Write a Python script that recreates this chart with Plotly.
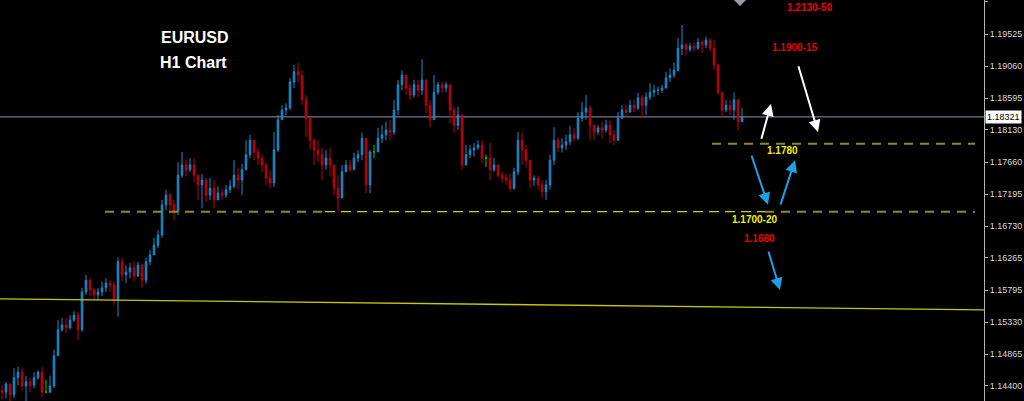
import plotly.graph_objects as go

# ---------------- data (EURUSD H1) ----------------
OPEN0 = 1.1433
CLOSE = [
1.1431,1.1443,1.1427,1.1452,1.1460,1.1440,1.1446,1.1441,1.1452,1.1460,
1.1431,1.1431,1.1440,1.1484,1.1522,1.1529,1.1525,1.1536,1.1543,1.1522,
1.1577,1.1594,1.1580,1.1573,1.1577,1.1583,1.1590,1.1587,1.1565,1.1621,
1.1602,1.1606,1.1612,1.1600,1.1616,1.1594,1.1621,1.1631,1.1645,1.1660,
1.1704,1.1718,1.1704,1.1694,1.1747,1.1762,1.1755,1.1762,1.1747,1.1733,
1.1740,1.1718,1.1728,1.1711,1.1721,1.1718,1.1726,1.1731,1.1747,1.1740,
1.1755,1.1777,1.1798,1.1781,1.1772,1.1762,1.1743,1.1736,1.1784,1.1828,
1.1842,1.1845,1.1883,1.1898,1.1893,1.1857,1.1830,1.1798,1.1784,1.1777,
1.1762,1.1772,1.1762,1.1728,1.1714,1.1752,1.1762,1.1755,1.1772,1.1777,
1.1801,1.1733,1.1781,1.1781,1.1801,1.1806,1.1813,1.1810,1.1842,1.1879,
1.1893,1.1874,1.1864,1.1879,1.1871,1.1886,1.1849,1.1828,1.1868,1.1879,
1.1874,1.1879,1.1842,1.1820,1.1835,1.1762,1.1777,1.1784,1.1787,1.1791,
1.1772,1.1772,1.1755,1.1762,1.1747,1.1743,1.1740,1.1728,1.1752,1.1798,
1.1784,1.1769,1.1740,1.1743,1.1733,1.1723,1.1733,1.1769,1.1798,1.1787,
1.1791,1.1796,1.1806,1.1801,1.1830,1.1839,1.1845,1.1820,1.1810,1.1816,
1.1813,1.1820,1.1806,1.1798,1.1830,1.1842,1.1839,1.1849,1.1845,1.1860,
1.1849,1.1861,1.1868,1.1871,1.1871,1.1874,1.1889,1.1893,1.1900,1.1932,
1.1937,1.1930,1.1935,1.1932,1.1941,1.1937,1.1944,1.1932,1.1908,1.1868,
1.1842,1.1849,1.1842,1.1857,1.1825,1.1832]

HIGH = [
1.1441,1.1446,1.1440,1.1466,1.1468,1.1466,1.1455,1.1452,1.1460,1.1463,
1.1468,1.1449,1.1455,1.1493,1.1536,1.1539,1.1539,1.1543,1.1549,1.1548,
1.1583,1.1602,1.1597,1.1583,1.1583,1.1592,1.1597,1.1594,1.1592,1.1627,
1.1627,1.1616,1.1619,1.1621,1.1621,1.1618,1.1627,1.1638,1.1656,1.1667,
1.1711,1.1726,1.1721,1.1711,1.1766,1.1781,1.1769,1.1772,1.1772,1.1747,
1.1749,1.1743,1.1743,1.1740,1.1731,1.1728,1.1733,1.1740,1.1769,1.1758,
1.1764,1.1798,1.1806,1.1791,1.1787,1.1777,1.1766,1.1755,1.1810,1.1835,
1.1849,1.1852,1.1889,1.1908,1.1911,1.1900,1.1864,1.1828,1.1801,1.1798,
1.1787,1.1784,1.1787,1.1762,1.1747,1.1762,1.1769,1.1769,1.1780,1.1784,
1.1809,1.1798,1.1784,1.1791,1.1816,1.1820,1.1825,1.1828,1.1857,1.1886,
1.1900,1.1886,1.1879,1.1886,1.1886,1.1916,1.1879,1.1857,1.1893,1.1883,
1.1883,1.1883,1.1871,1.1847,1.1847,1.1820,1.1791,1.1791,1.1794,1.1798,
1.1798,1.1777,1.1794,1.1772,1.1762,1.1752,1.1749,1.1750,1.1758,1.1810,
1.1809,1.1791,1.1769,1.1747,1.1747,1.1740,1.1740,1.1777,1.1817,1.1803,
1.1801,1.1806,1.1819,1.1816,1.1839,1.1854,1.1864,1.1849,1.1820,1.1820,
1.1825,1.1828,1.1828,1.1813,1.1839,1.1849,1.1849,1.1857,1.1857,1.1867,
1.1864,1.1868,1.1881,1.1879,1.1876,1.1879,1.1898,1.1903,1.1911,1.1947,
1.1966,1.1940,1.1940,1.1941,1.1947,1.1944,1.1949,1.1947,1.1944,1.1908,
1.1868,1.1857,1.1857,1.1868,1.1849,1.1845]

LOW = [
1.1420,1.1422,1.1418,1.1422,1.1441,1.1434,1.1418,1.1431,1.1437,1.1449,
1.1424,1.1430,1.1430,1.1437,1.1484,1.1519,1.1517,1.1522,1.1533,1.1507,
1.1519,1.1573,1.1571,1.1565,1.1565,1.1571,1.1577,1.1577,1.1558,1.1541,
1.1592,1.1590,1.1597,1.1592,1.1602,1.1583,1.1589,1.1616,1.1631,1.1641,
1.1656,1.1696,1.1694,1.1682,1.1689,1.1743,1.1745,1.1752,1.1737,1.1711,
1.1699,1.1708,1.1711,1.1699,1.1711,1.1711,1.1714,1.1721,1.1728,1.1726,
1.1718,1.1758,1.1772,1.1769,1.1762,1.1752,1.1733,1.1728,1.1730,1.1781,
1.1830,1.1835,1.1842,1.1874,1.1883,1.1849,1.1803,1.1784,1.1762,1.1766,
1.1740,1.1755,1.1745,1.1718,1.1695,1.1721,1.1752,1.1752,1.1762,1.1766,
1.1769,1.1721,1.1721,1.1772,1.1784,1.1794,1.1798,1.1798,1.1806,1.1835,
1.1871,1.1864,1.1857,1.1860,1.1861,1.1864,1.1838,1.1817,1.1838,1.1864,
1.1867,1.1868,1.1823,1.1809,1.1813,1.1755,1.1769,1.1772,1.1774,1.1784,
1.1765,1.1759,1.1740,1.1752,1.1743,1.1736,1.1733,1.1723,1.1726,1.1747,
1.1762,1.1758,1.1728,1.1731,1.1726,1.1714,1.1711,1.1726,1.1762,1.1781,
1.1780,1.1784,1.1791,1.1796,1.1798,1.1825,1.1828,1.1798,1.1798,1.1806,
1.1801,1.1809,1.1794,1.1791,1.1806,1.1830,1.1833,1.1839,1.1839,1.1842,
1.1830,1.1835,1.1857,1.1861,1.1864,1.1867,1.1874,1.1883,1.1889,1.1898,
1.1922,1.1922,1.1927,1.1927,1.1930,1.1925,1.1932,1.1927,1.1900,1.1864,
1.1832,1.1839,1.1835,1.1828,1.1813,1.1825]

DOJI_IDX = [11, 93, 121]

TICK_VALUES = [1.19995, 1.19525, 1.19060, 1.18595, 1.18130, 1.17660, 1.17195,
               1.16730, 1.16265, 1.15795, 1.15330, 1.14865, 1.14400]
TICK_LABELS = ["%.5f" % v for v in TICK_VALUES]

CURRENT_PRICE = 1.18321
LEVEL_1780 = 1.1793
LEVEL_1700 = 1.1694
TREND_START = 1.1567
TREND_END = 1.1551

# arrows: (tail_bar, tail_price, head_bar, head_price)
WHITE_ARROWS = [(189.75, 1.1798, 192.25, 1.1851), (199.0, 1.1908, 204.0, 1.1810)]
BLUE_ARROWS = [(187.25, 1.1778, 191.5, 1.1704), (194.5, 1.1702, 198.25, 1.1769),
               (191.5, 1.1638, 194.5, 1.1580)]

# ---------------- build ----------------
n = len(CLOSE)
OPEN = [OPEN0] + CLOSE[:-1]
HI = [max(h, o, c) for h, o, c in zip(HIGH, OPEN, CLOSE)]
LO = [min(l, o, c) for l, o, c in zip(LOW, OPEN, CLOSE)]

BLUE = "#1a8bcc"
RED = "#c00010"
GREEN = "#10c010"
normal = [i for i in range(n) if i not in DOJI_IDX]

fig = go.Figure()
fig.add_trace(go.Candlestick(
    x=normal,
    open=[OPEN[i] for i in normal], high=[HI[i] for i in normal],
    low=[LO[i] for i in normal], close=[CLOSE[i] for i in normal],
    increasing=dict(line=dict(color=BLUE, width=1), fillcolor=BLUE),
    decreasing=dict(line=dict(color=RED, width=1), fillcolor=RED),
    whiskerwidth=0, showlegend=False, hoverinfo="skip"))
fig.add_trace(go.Candlestick(
    x=DOJI_IDX,
    open=[OPEN[i] for i in DOJI_IDX], high=[HI[i] for i in DOJI_IDX],
    low=[LO[i] for i in DOJI_IDX], close=[CLOSE[i] for i in DOJI_IDX],
    increasing=dict(line=dict(color=GREEN, width=1), fillcolor=GREEN),
    decreasing=dict(line=dict(color=GREEN, width=1), fillcolor=GREEN),
    whiskerwidth=0, showlegend=False, hoverinfo="skip"))

# small gray marker at top
fig.add_trace(go.Scatter(x=[184.5], y=[1.2004], mode="markers",
                         marker=dict(symbol="diamond", size=11, color="#9a9aa4"),
                         showlegend=False, hoverinfo="skip"))

XMIN, XMAX = -0.5, 245.5
YMIN, YMAX = 1.14181, 1.20024

shapes = [
    dict(type="line", xref="x", yref="y", x0=XMIN, x1=XMAX, y0=CURRENT_PRICE, y1=CURRENT_PRICE,
         line=dict(color="#8c96aa", width=1), layer="below"),
    dict(type="line", xref="x", yref="y", x0=XMIN, x1=XMAX, y0=TREND_START, y1=TREND_END,
         line=dict(color="#c8c800", width=1.3)),
    dict(type="line", xref="x", yref="y", x0=177.5, x1=243.25, y0=LEVEL_1780, y1=LEVEL_1780,
         line=dict(color="#8e8e12", width=2, dash="9px,7px")),
    dict(type="line", xref="x", yref="y", x0=25.75, x1=80.75, y0=LEVEL_1700, y1=LEVEL_1700,
         line=dict(color="#8e8e12", width=2, dash="9px,7px")),
    dict(type="line", xref="x", yref="y", x0=80.75, x1=190.75, y0=LEVEL_1700, y1=LEVEL_1700,
         line=dict(color="#d4d400", width=1.3, dash="10px,6px")),
    dict(type="line", xref="x", yref="y", x0=190.75, x1=243.25, y0=LEVEL_1700, y1=LEVEL_1700,
         line=dict(color="#8e8e12", width=2, dash="9px,7px")),
]

annotations = []
def txt(text, x, y, color, size, bold=True):
    annotations.append(dict(text="<b>%s</b>" % text if bold else text, x=x, y=y,
                            xref="paper", yref="paper", showarrow=False,
                            xanchor="center", yanchor="middle",
                            font=dict(family="Arial, Liberation Sans", size=size, color=color)))

txt("EURUSD", 195 / 984, 1 - 38 / 401, "#ffffff", 16)
txt("H1 Chart", 193.5 / 984, 1 - 62.5 / 401, "#ffffff", 16)
txt("1.2130-50", 809.5 / 984, 1 - 8 / 401, "#e80000", 10)
txt("1.1900-15", 794.5 / 984, 1 - 47.5 / 401, "#e80000", 10)
txt("1.1780", 782.5 / 984, 1 - 150.5 / 401, "#f0f000", 10)
txt("1.1700-20", 754.5 / 984, 1 - 219.5 / 401, "#f0f000", 10)
txt("1.1680", 759 / 984, 1 - 238.5 / 401, "#e80000", 10)

for arrows, col in ((WHITE_ARROWS, "#ffffff"), (BLUE_ARROWS, "#1ea0e6")):
    for tx, ty, hx, hy in arrows:
        annotations.append(dict(x=hx, y=hy, ax=tx, ay=ty, xref="x", yref="y",
                                axref="x", ayref="y", showarrow=True, text="",
                                arrowhead=2, arrowsize=1.2, arrowwidth=2,
                                arrowcolor=col, standoff=0))

# current price label
annotations.append(dict(text="1.18321", x=1, y=CURRENT_PRICE, xref="paper", yref="y",
                        xanchor="left", yanchor="middle", xshift=1, showarrow=False,
                        bgcolor="#ffffff", borderpad=1,
                        font=dict(family="Liberation Sans, Arial", size=9, color="#000000")))

fig.update_layout(
    width=1024, height=401,
    margin=dict(l=0, r=40, t=0, b=0),
    paper_bgcolor="#000000", plot_bgcolor="#000000",
    boxgap=0.45,
    shapes=shapes, annotations=annotations,
    xaxis=dict(range=[XMIN, XMAX], visible=False, rangeslider=dict(visible=False),
               showgrid=False, zeroline=False),
    yaxis=dict(range=[YMIN, YMAX], side="right", tickvals=TICK_VALUES, ticktext=TICK_LABELS,
               showgrid=False, zeroline=False, showline=True, linecolor="#b4b4b4", linewidth=1,
               ticks="outside", ticklen=3, tickcolor="#b4b4b4",
               tickfont=dict(family="Liberation Sans, Arial", size=9, color="#dcdcdc")),
)

fig.write_html("out.html", config={"displayModeBar": False},
               post_script="document.body.style.margin='0';document.body.style.background='#000';")
